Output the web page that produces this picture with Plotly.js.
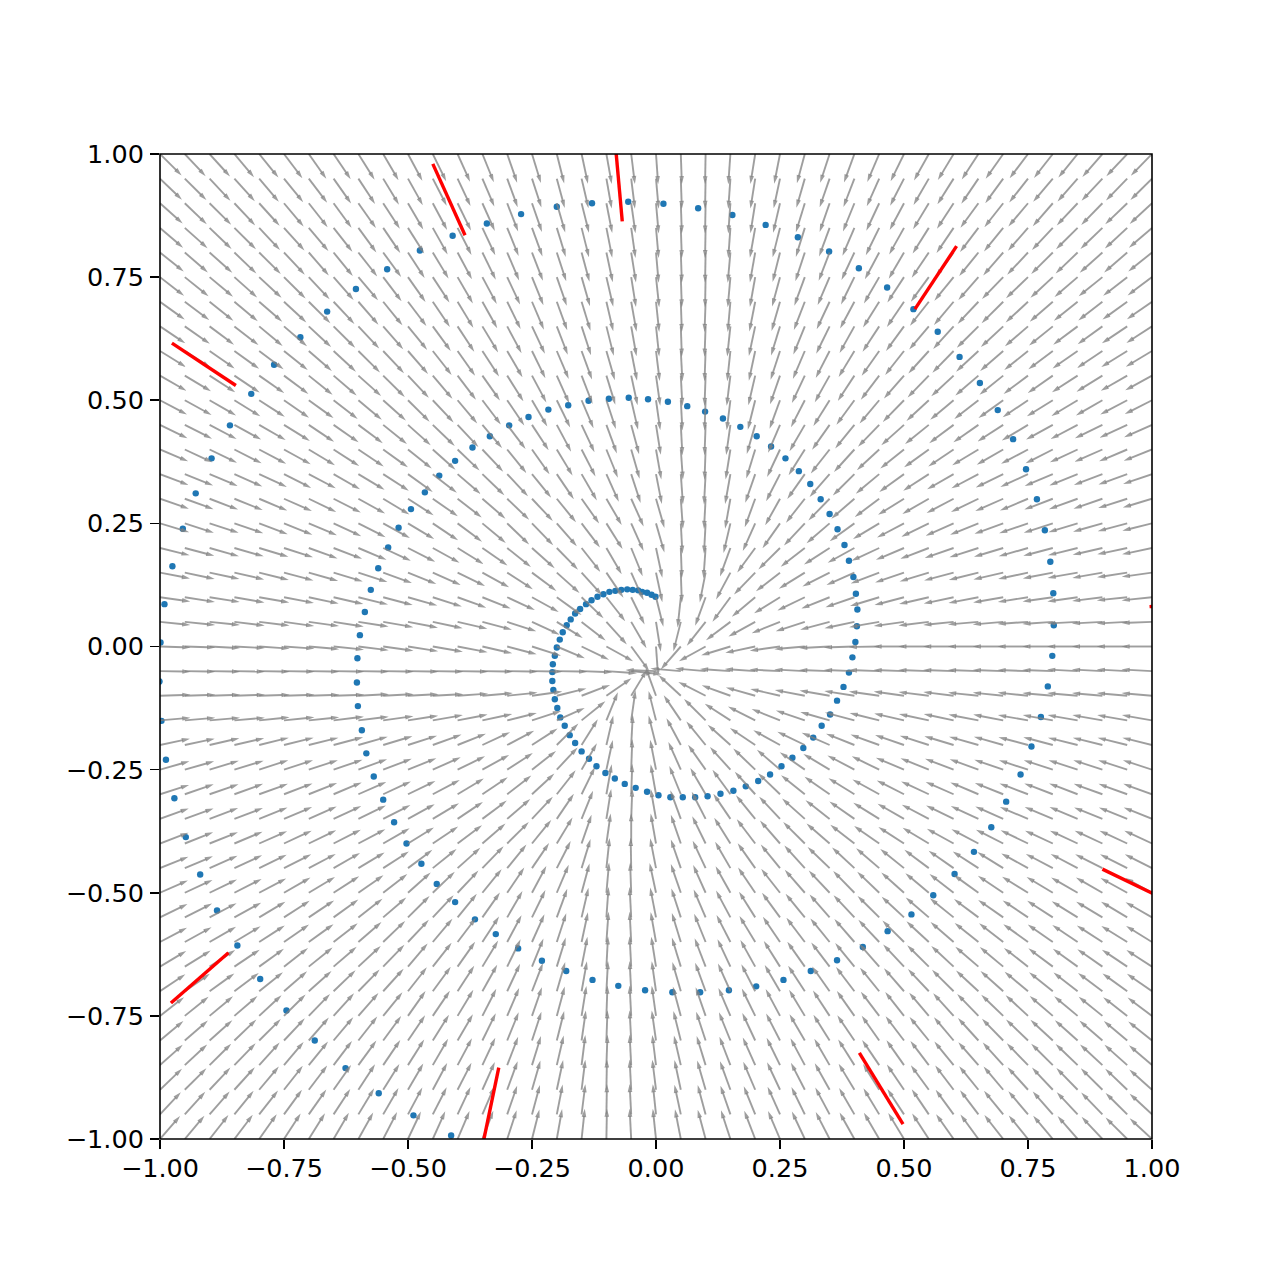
<!DOCTYPE html>
<html>
<head>
<meta charset="utf-8">
<script src="https://cdn.plot.ly/plotly-3.0.1.min.js"></script>
<style>html,body{margin:0;padding:0;background:#fff}</style>
</head>
<body>
<div id="chart" style="width:1280px;height:1280px"></div>
<script>
// Quiver grid
const gridX = [-1,-.95,-.9,-.85,-.8,-.75,-.7,-.65,-.6,-.55,-.5,-.45,-.4,-.35,-.3,-.25,-.2,-.15,-.1,-.05,0,.05,.1,.15,.2,.25,.3,.35,.4,.45,.5,.55,.6,.65,.7,.75,.8,.85,.9,.95,1];
const gridY = [1,.95,.9,.85,.8,.75,.7,.65,.6,.55,.5,.45,.4,.35,.3,.25,.2,.15,.1,.05,0,-.05,-.1,-.15,-.2,-.25,-.3,-.35,-.4,-.45,-.5,-.55,-.6,-.65,-.7,-.75,-.8,-.85,-.9,-.95,-1];
// Arrow direction in degrees: one row per gridY, one column per gridX
const arrowAngles = [
[-45,-47,-48,-50,-51,-53,-55,-56,-58,-60,-62,-64,-66,-68,-71,-73,-76,-78,-80,-83,-86,-88,-91,-94,-99,-101,-105,-108,-110,-113,-116,-119,-121,-123,-125,-127,-128,-129,-131,-133,-134],
[-44,-45,-47,-48,-50,-51,-53,-55,-57,-59,-61,-63,-65,-67,-70,-72,-75,-77,-80,-83,-85,-88,-91,-94,-99,-102,-106,-109,-111,-114,-117,-120,-122,-124,-126,-128,-130,-131,-133,-134,-135],
[-42,-44,-45,-47,-48,-50,-52,-54,-55,-57,-60,-62,-64,-66,-69,-71,-74,-76,-79,-82,-85,-88,-91,-94,-99,-103,-107,-109,-112,-115,-118,-121,-123,-126,-128,-130,-131,-133,-134,-136,-137],
[-41,-42,-44,-45,-47,-48,-50,-52,-54,-56,-58,-61,-63,-65,-68,-70,-73,-76,-79,-82,-85,-88,-91,-94,-100,-104,-107,-110,-113,-116,-119,-122,-124,-127,-129,-131,-133,-135,-136,-137,-139],
[-39,-41,-42,-44,-45,-47,-49,-51,-52,-54,-57,-59,-62,-64,-67,-69,-72,-75,-78,-81,-85,-88,-91,-95,-100,-104,-108,-111,-115,-118,-120,-124,-126,-129,-131,-133,-135,-136,-138,-139,-141],
[-38,-39,-40,-42,-43,-45,-47,-49,-50,-53,-55,-57,-60,-62,-65,-68,-71,-74,-77,-81,-84,-88,-91,-95,-100,-105,-110,-113,-116,-120,-123,-126,-129,-131,-134,-136,-137,-139,-141,-142,-143],
[-36,-37,-39,-40,-41,-43,-45,-47,-49,-51,-53,-56,-59,-61,-64,-67,-70,-73,-77,-80,-84,-88,-92,-95,-101,-106,-111,-115,-118,-122,-124,-128,-130,-133,-135,-137,-139,-141,-142,-144,-145],
[-34,-35,-37,-38,-40,-41,-43,-45,-47,-49,-51,-54,-57,-59,-62,-65,-69,-72,-76,-80,-84,-88,-92,-96,-102,-107,-112,-116,-119,-123,-126,-130,-132,-135,-137,-139,-141,-143,-144,-146,-147],
[-32,-33,-35,-36,-37,-39,-41,-43,-45,-47,-49,-52,-55,-57,-60,-64,-67,-70,-74,-79,-83,-87,-92,-96,-102,-108,-113,-117,-121,-125,-128,-132,-134,-137,-139,-141,-143,-145,-146,-148,-149],
[-30,-31,-33,-34,-35,-37,-39,-41,-42,-45,-47,-50,-53,-55,-58,-62,-66,-69,-73,-78,-82,-87,-92,-97,-103,-109,-115,-119,-123,-127,-131,-134,-137,-139,-141,-143,-145,-147,-148,-150,-151],
[-28,-29,-30,-32,-33,-35,-36,-38,-40,-42,-45,-47,-50,-53,-56,-60,-64,-67,-72,-77,-82,-87,-92,-97,-104,-110,-117,-122,-126,-130,-134,-137,-140,-142,-144,-146,-148,-149,-150,-152,-153],
[-26,-27,-28,-29,-30,-32,-34,-35,-37,-39,-42,-44,-47,-50,-53,-57,-62,-65,-70,-75,-81,-87,-92,-98,-106,-113,-120,-125,-129,-134,-138,-141,-143,-145,-147,-149,-151,-152,-154,-155,-156],
[-23,-25,-26,-27,-28,-29,-31,-33,-34,-36,-39,-42,-44,-47,-51,-55,-59,-63,-68,-74,-80,-86,-92,-99,-107,-115,-122,-128,-132,-137,-141,-144,-146,-149,-150,-152,-153,-155,-156,-157,-158],
[-21,-22,-23,-24,-25,-27,-28,-30,-31,-33,-36,-38,-41,-44,-47,-51,-56,-60,-66,-72,-79,-86,-93,-100,-109,-117,-125,-131,-135,-140,-144,-147,-150,-152,-154,-155,-157,-158,-159,-160,-161],
[-19,-20,-21,-22,-23,-24,-26,-27,-29,-31,-33,-35,-38,-41,-44,-47,-51,-55,-60,-66,-74,-86,-93,-100,-110,-119,-128,-134,-139,-143,-148,-150,-152,-154,-156,-157,-159,-160,-161,-162,-163],
[-17,-18,-18,-19,-21,-22,-23,-25,-27,-29,-31,-34,-37,-40,-44,-46,-49,-53,-58,-66,-74,-87,-93,-103,-114,-125,-133,-139,-144,-149,-152,-154,-156,-158,-160,-161,-162,-163,-164,-165,-166],
[-14,-15,-16,-16,-17,-18,-20,-21,-23,-25,-27,-29,-32,-35,-39,-42,-46,-52,-60,-68,-78,-88,-94,-110,-126,-135,-142,-147,-151,-155,-157,-159,-161,-162,-163,-164,-165,-166,-167,-168,-168],
[-11,-12,-12,-13,-14,-15,-16,-17,-18,-20,-22,-24,-26,-29,-33,-37,-42,-48,-56,-66,-78,-88,-101,-118,-134,-142,-148,-153,-156,-159,-161,-163,-165,-166,-167,-168,-169,-170,-170,-171,-172],
[-8,-9,-9,-10,-10,-11,-12,-13,-14,-15,-16,-18,-20,-22,-25,-29,-36,-44,-52,-64,-76,-96,-110,-126,-140,-148,-154,-158,-161,-163,-165,-167,-168,-169,-170,-171,-172,-172,-173,-174,-174],
[-6,-6,-6,-7,-7,-8,-8,-9,-9,-10,-11,-12,-13,-15,-18,-25,-32,-38,-48,-60,-81,-104,-128,-143,-151,-158,-162,-165,-168,-170,-172,-173,-174,-175,-175,-176,-176,-177,-177,-177,-178],
[-2,-2,-3,-3,-4,-4,-5,-6,-7,-8,-9,-10,-11,-13,-15,-18,-23,-26,-29,-54,-86,-131,-151,-163,-168,-172,-175,-177,-178,-179,180,180,180,180,180,180,180,180,180,180,180],
[-1,-1,-1,-1,-1,-1,-1,-1,-1,-1,-1,-1,-1,-1,-1,-1,-1,-2,-4,-6,178,175,175,176,176,177,177,178,178,178,178,178,178,178,178,178,178,177,177,177,177],
[2,2,2,2,2,2,2,2,3,3,3,3,4,5,6,8,14,21,35,59,110,137,153,160,164,167,169,170,171,172,172,173,173,174,174,174,175,175,175,175,175],
[5,5,5,5,6,6,6,7,7,8,9,10,11,12,14,18,24,39,68,82,104,124,135,147,153,158,161,164,165,166,167,168,168,169,169,170,170,170,170,170,170],
[12,12,13,13,14,14,14,15,16,17,18,20,22,25,28,33,45,58,77,87,104,118,129,138,146,151,154,156,158,160,161,162,163,164,164,165,165,166,166,166,166],
[16,16,17,17,18,18,18,19,20,21,22,24,26,29,33,38,47,60,78,88,101,114,125,132,136,139,145,149,152,154,157,158,159,160,161,162,162,162,162,162,162],
[18,19,19,20,20,21,22,23,24,25,26,28,31,34,38,43,52,64,80,88,100,112,120,126,132,136,141,145,148,151,153,155,156,157,158,159,159,159,160,160,160],
[20,20,21,21,22,23,24,25,26,27,29,31,34,37,41,47,56,68,81,88,100,110,117,124,129,133,138,142,145,148,150,152,154,155,156,157,157,157,158,158,158],
[21,22,22,23,24,25,26,27,28,30,32,34,37,41,45,51,59,71,82,90,100,109,116,122,127,131,135,139,142,145,147,149,151,152,153,154,155,155,155,155,155],
[22,23,24,25,26,27,28,30,31,33,37,39,42,46,51,56,63,73,84,91,101,109,115,120,125,129,132,136,137,139,141,143,145,147,148,151,152,152,153,153,153],
[24,25,26,27,28,30,31,33,35,38,42,44,47,51,56,62,67,75,85,92,102,109,114,119,124,128,131,133,134,136,138,140,142,144,146,148,149,150,150,151,151],
[26,27,28,29,31,33,34,36,38,41,45,47,51,55,60,64,70,77,86,93,101,108,113,118,122,126,129,131,133,135,137,139,141,143,145,146,147,148,149,149,150],
[28,29,30,31,33,35,36,38,41,44,47,50,53,57,62,66,72,78,86,93,100,107,112,117,121,124,127,129,131,133,135,137,139,141,142,144,145,146,147,148,148],
[31,32,33,34,36,38,39,41,43,46,50,52,55,59,64,68,73,79,87,93,99,107,111,115,119,122,125,127,129,131,133,135,137,139,140,142,143,144,145,146,147],
[34,35,36,37,39,41,42,44,46,48,52,54,57,61,65,69,74,80,87,93,98,106,110,114,117,120,123,125,127,129,131,133,135,137,138,140,141,142,143,144,145],
[38,39,40,41,43,45,46,48,49,51,55,56,59,63,67,71,75,81,88,93,98,105,109,113,116,118,121,123,125,127,128,130,132,134,136,137,139,140,141,142,143],
[40,41,42,44,45,47,49,50,52,54,56,58,60,64,68,72,76,82,88,93,98,104,108,112,115,117,120,122,124,125,127,129,130,132,134,136,137,138,139,140,141],
[42,43,45,46,48,50,51,53,54,56,58,60,62,65,69,73,77,83,88,93,97,103,107,111,114,116,118,120,122,124,125,127,129,131,132,134,135,136,137,138,139],
[44,45,47,48,50,52,53,55,57,58,60,62,63,66,70,74,78,83,89,93,97,102,106,110,113,115,117,119,121,122,124,126,127,129,130,132,133,134,135,136,138],
[47,48,49,51,52,54,55,57,59,60,62,63,65,67,71,75,79,83,89,93,96,102,105,109,112,114,116,118,120,121,123,124,126,127,129,130,131,133,134,135,137],
[49,50,52,53,55,57,58,60,61,63,65,66,67,69,72,76,80,84,89,93,96,101,105,108,111,113,115,117,119,120,121,123,125,126,128,129,130,131,133,135,137]
];
// Blue points
const pointX = [-.999,-.991,-.975,-.954,-.928,-.896,-.859,-.816,-.770,-.717,-.663,-.605,-.542,-.476,-.410,-.341,-.272,-.200,-.129,-.056,.015,.085,.154,.221,.286,.349,.409,.466,.519,.568,.612,.653,.689,.720,.746,.768,.784,.795,.801,.802,.799,.790,.776,.757,.735,.706,.676,.641,.602,.559,.515,.467,.417,.365,.312,.257,.202,.147,.089,.033,-.022,-.076,-.128,-.181,-.230,-.278,-.323,-.365,-.405,-.442,-.473,-.503,-.528,-.550,-.569,-.584,-.593,-.601,-.603,-.602,-.597,-.587,-.575,-.560,-.540,-.519,-.494,-.466,-.437,-.405,-.370,-.335,-.296,-.257,-.217,-.177,-.136,-.095,-.055,-.016,.024,.063,.099,.135,.170,.203,.232,.261,.288,.311,.332,.350,.366,.380,.389,.398,.403,.406,.405,.402,.396,.389,.378,.365,.351,.334,.317,.297,.275,.253,.230,.206,.181,.156,.130,.104,.079,.054,.029,.005,-.018,-.041,-.063,-.083,-.102,-.120,-.135,-.150,-.163,-.174,-.184,-.193,-.199,-.204,-.207,-.209,-.209,-.208,-.204,-.200,-.194,-.188,-.180,-.172,-.163,-.153,-.141,-.130,-.118,-.106,-.094,-.082,-.070,-.058,-.047,-.036,-.028,-.018,-.009,-.001,-1.001,-.997,-.988,-.971,-.948,-.919,-.885,-.844,-.798,-.745,-.688,-.626,-.559,-.489,-.413];
const pointY = [.008,.086,.163,.239,.311,.382,.449,.513,.572,.628,.680,.726,.766,.804,.834,.859,.878,.893,.900,.903,.899,.890,.876,.856,.831,.802,.768,.729,.685,.639,.588,.535,.480,.421,.360,.299,.236,.172,.108,.043,-.019,-.081,-.143,-.203,-.260,-.315,-.367,-.417,-.462,-.505,-.544,-.578,-.610,-.637,-.659,-.677,-.690,-.698,-.702,-.702,-.698,-.689,-.677,-.659,-.638,-.613,-.584,-.554,-.519,-.482,-.441,-.400,-.357,-.311,-.264,-.217,-.170,-.121,-.073,-.024,.023,.070,.115,.159,.201,.241,.279,.313,.347,.377,.404,.427,.449,.466,.481,.490,.499,.503,.505,.502,.497,.488,.477,.463,.446,.427,.406,.382,.356,.330,.299,.269,.238,.206,.174,.141,.107,.075,.041,.009,-.022,-.053,-.082,-.110,-.138,-.161,-.185,-.206,-.226,-.243,-.260,-.273,-.284,-.293,-.299,-.304,-.306,-.306,-.306,-.302,-.295,-.287,-.279,-.268,-.257,-.243,-.228,-.213,-.196,-.180,-.161,-.144,-.125,-.107,-.088,-.070,-.052,-.036,-.019,-.002,.014,.029,.043,.055,.067,.076,.086,.094,.101,.106,.111,.113,.115,.116,.115,.114,.111,.109,.105,.101,-.071,-.151,-.230,-.308,-.387,-.463,-.536,-.607,-.675,-.739,-.800,-.856,-.907,-.952,-.993];
// Red segments: start and end of each
const segStartX = [-.450,-.082,.606,-.976,.995,.900,.410,-.317,-.862];
const segStartY = [.980,1.020,.813,.616,.081,-.452,-.825,-.855,-.622];
const segEndX = [-.385,-.068,.522,-.847,1.150,1.040,.498,-.350,-.978];
const segEndY = [.835,.863,.685,.530,.090,-.520,-.970,-1.015,-.724];
const tickValues = [-1,-.75,-.5,-.25,0,.25,.5,.75,1];

// Drawing constants
const arrowLength = .0616, headLength = .0165, headHalfWidth = .0047;
const arrowColor = 'rgba(128,128,128,0.76)';

const shaftX = [], shaftY = [], headX = [], headY = [];
gridY.forEach((y, j) => gridX.forEach((x, i) => {
  const a = arrowAngles[j][i] * Math.PI / 180, c = Math.cos(a), s = Math.sin(a);
  const tx = x + arrowLength * c, ty = y + arrowLength * s;
  const bx = tx - headLength * c, by = ty - headLength * s;
  shaftX.push(x, bx + .002 * c, null); shaftY.push(y, by + .002 * s, null);
  headX.push(tx, bx - headHalfWidth * s, bx + headHalfWidth * s, tx, null);
  headY.push(ty, by + headHalfWidth * c, by - headHalfWidth * c, ty, null);
}));
const redX = [], redY = [];
segStartX.forEach((v, i) => { redX.push(v, segEndX[i], null); redY.push(segStartY[i], segEndY[i], null); });

const data = [
  {type:'scatter', mode:'markers', x:pointX, y:pointY, marker:{color:'#1f77b4', size:6.4, line:{width:0}}, hoverinfo:'skip'},
  {type:'scatter', mode:'lines', x:shaftX, y:shaftY, line:{color:arrowColor, width:1.9, simplify:false}, hoverinfo:'skip'},
  {type:'scatter', mode:'lines', x:headX, y:headY, fill:'toself', fillcolor:arrowColor, line:{width:0, color:'rgba(0,0,0,0)'}, hoverinfo:'skip'},
  {type:'scatter', mode:'lines', x:redX, y:redY, line:{color:'#ff0000', width:3.4, simplify:false}, hoverinfo:'skip'}
];
const axis = {
  range:[-1,1], tickvals:tickValues, tickformat:'.2f', ticks:'outside', ticklen:9, tickwidth:1.6, tickcolor:'#000',
  showline:false, showgrid:false, zeroline:false,
  tickfont:{family:'"DejaVu Sans", sans-serif', size:25.5, color:'#000'}, fixedrange:true
};
const layout = {
  width:1280, height:1280, autosize:false, showlegend:false,
  paper_bgcolor:'#fff', plot_bgcolor:'#fff',
  margin:{l:160, r:128, t:154, b:141, pad:0},
  xaxis:Object.assign({}, axis, {ticklabelstandoff:-3}),
  yaxis:Object.assign({}, axis, {ticklabelstandoff:1}),
  shapes:[{type:'rect', xref:'paper', yref:'paper', x0:0, x1:1, y0:0, y1:1, line:{color:'#000', width:1.6}, fillcolor:'rgba(0,0,0,0)', layer:'above'}]
};
Plotly.newPlot('chart', data, layout, {displayModeBar:false, staticPlot:true});
</script>
</body>
</html>
